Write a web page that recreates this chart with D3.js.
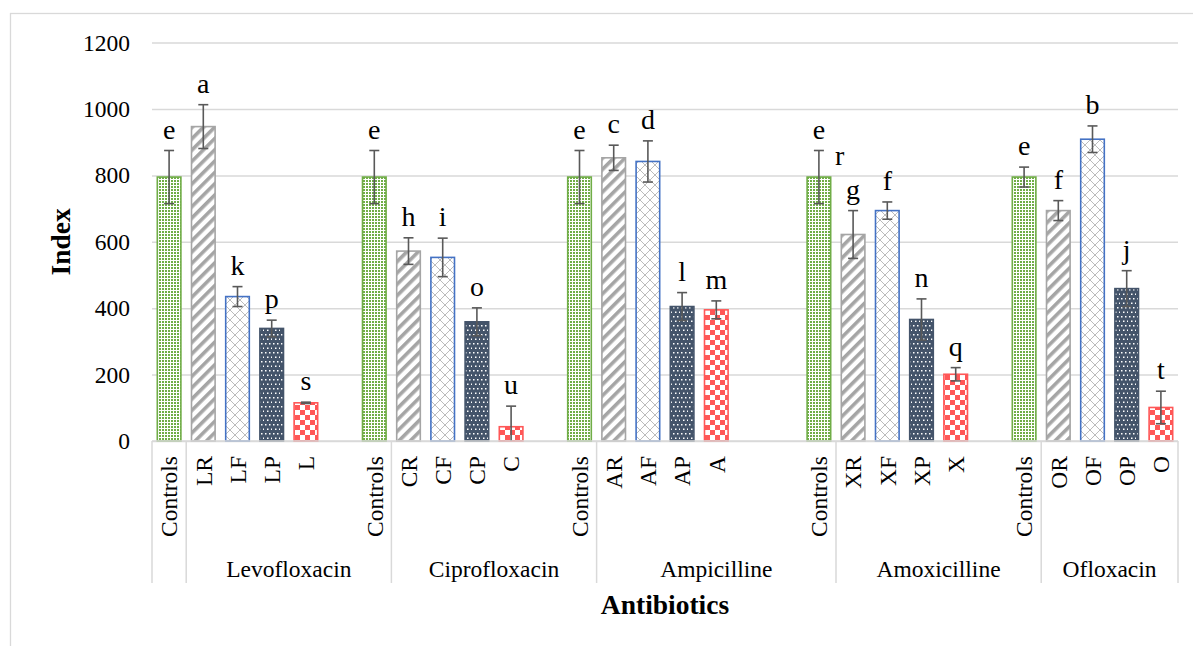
<!DOCTYPE html>
<html>
<head>
<meta charset="utf-8">
<script src="https://cdn.jsdelivr.net/npm/d3@7"></script>
<style>
  html, body { margin: 0; padding: 0; background: #ffffff; }
  svg { display: block; }
  svg text { font-family: "Liberation Serif", "Times New Roman", serif !important; fill: #000; }
</style>
</head>
<body>
<svg id="chart" width="1193" height="646"></svg>
<script>
// Antibiotic groups and the treatments shown in each ("" = empty slot)
const groupNames = ["", "Levofloxacin", "Ciprofloxacin", "Ampicilline", "Amoxicilline", "Ofloxacin"];
const groupMembers = [
  ["Controls"],
  ["LR", "LF", "LP", "L", "", "Controls"],
  ["CR", "CF", "CP", "C", "", "Controls"],
  ["AR", "AF", "AP", "A", "", "", "Controls"],
  ["XR", "XF", "XP", "X", "", "Controls"],
  ["OR", "OF", "OP", "O"]
];

// Series each slot belongs to (drives its fill pattern)
const seriesOf = [
  "ctrl",
  "R", "F", "P", "N", null, "ctrl",
  "R", "F", "P", "N", null, "ctrl",
  "R", "F", "P", "N", null, null, "ctrl",
  "R", "F", "P", "N", null, "ctrl",
  "R", "F", "P", "N"
];

// Mean index per slot
const values = [
  795,
  947, 435, 339, 115, null, 795,
  572, 553, 359, 43, null, 795,
  853, 842, 405, 395, null, null, 795,
  622, 694, 366, 201, null, 795,
  694, 909, 459, 101
];

// Standard deviation per slot
const errors = [
  80,
  66, 30, 25, 2, null, 80,
  40, 58, 42, 62, null, 80,
  38, 62, 42, 27, null, null, 80,
  72, 26, 62, 20, null, 30,
  30, 40, 54, 49
];

// Significance letters per slot
const letters = [
  "e",
  "a", "k", "p", "s", "", "e",
  "h", "i", "o", "u", "", "e",
  "c", "d", "l", "m", "", "", "e",
  "g", "f", "n", "q", "", "e",
  "f", "b", "j", "t"
];

// Extra letter written beside the Amoxicilline control bar
const sideNotes = [{ slot: 19, text: "r" }];

const yTicks = [0, 200, 400, 600, 800, 1000, 1200];

// ---------------------------------------------------------------
const svg = d3.select("#chart");
const W = 1193, H = 646;
const plot = { left: 152, right: 1178, top: 42.6, bottom: 441 };
const gridColor = "#d9d9d9";
const errColor = "#595959";
const serif = "Liberation Serif";

const categories = groupMembers.flat();
const slots = d3.range(categories.length);

const x = d3.scaleBand()
  .domain(slots)
  .range([plot.left, plot.right])
  .paddingInner(0.31)
  .paddingOuter(0.155);

const y = d3.scaleLinear().domain([0, 1200]).range([plot.bottom, plot.top]);

// chart area frame
svg.append("rect")
  .attr("x", 10.5).attr("y", 13.5)
  .attr("width", W + 20).attr("height", H + 20)
  .attr("fill", "#fff").attr("stroke", gridColor).attr("stroke-width", 1.3);

// ---- fill patterns -------------------------------------------
const defs = svg.append("defs");

// controls: fine green dot grid
const pCtrl = defs.append("pattern").attr("id", "pat-ctrl")
  .attr("patternUnits", "userSpaceOnUse").attr("width", 3).attr("height", 3);
pCtrl.append("rect").attr("width", 3).attr("height", 3).attr("fill", "#ffffff");
pCtrl.append("rect").attr("width", 2).attr("height", 2).attr("fill", "#70ad47");

// R: wide upward diagonal grey stripes
const pR = defs.append("pattern").attr("id", "pat-R")
  .attr("patternUnits", "userSpaceOnUse").attr("width", 8).attr("height", 8)
  .attr("patternTransform", "rotate(45)");
pR.append("rect").attr("width", 8).attr("height", 8).attr("fill", "#ffffff");
pR.append("rect").attr("width", 3.6).attr("height", 8).attr("fill", "#a5a5a5");

// F: thin grey zig-zag lattice
const pF = defs.append("pattern").attr("id", "pat-F")
  .attr("patternUnits", "userSpaceOnUse").attr("width", 10).attr("height", 10);
pF.append("rect").attr("width", 10).attr("height", 10).attr("fill", "#ffffff");
pF.append("path").attr("d", "M0,0 L5,5 L0,10 M10,0 L5,5 L10,10")
  .attr("stroke", "#b4b4b4").attr("stroke-width", 0.9).attr("fill", "none");

// P: navy with staggered white dots
const pP = defs.append("pattern").attr("id", "pat-P")
  .attr("patternUnits", "userSpaceOnUse").attr("width", 8).attr("height", 9);
pP.append("rect").attr("width", 8).attr("height", 9).attr("fill", "#44546a");
[[1, 1], [5, 1], [3, 5.5], [7, 5.5]].forEach(([cx, cy]) =>
  pP.append("rect").attr("x", cx).attr("y", cy).attr("width", 1.5).attr("height", 1.5).attr("fill", "#ffffff"));

// N: red checkerboard
const pN = defs.append("pattern").attr("id", "pat-N")
  .attr("patternUnits", "userSpaceOnUse").attr("width", 10).attr("height", 10);
pN.append("rect").attr("width", 10).attr("height", 10).attr("fill", "#ffffff");
pN.append("rect").attr("width", 5).attr("height", 5).attr("fill", "#ff5757");
pN.append("rect").attr("x", 5).attr("y", 5).attr("width", 5).attr("height", 5).attr("fill", "#ff5757");

const outline = { ctrl: "#70ad47", R: "#a5a5a5", F: "#4472c4", P: "#44546a", N: "#ff5757" };

// ---- y axis with gridlines -----------------------------------
const yAxis = d3.axisLeft(y)
  .tickValues(yTicks)
  .tickFormat(d3.format("d"))
  .tickSize(-(plot.right - plot.left))
  .tickPadding(22);

const gy = svg.append("g")
  .attr("transform", `translate(${plot.left},0)`)
  .call(yAxis)
  .attr("font-family", serif)
  .attr("font-size", 23.5);
gy.select(".domain").remove();
gy.selectAll(".tick line").attr("stroke", gridColor).attr("stroke-width", 1.5);
gy.selectAll(".tick text").attr("fill", "#000");

// ---- bars -----------------------------------------------------
const barData = slots.filter(i => values[i] != null);

svg.append("g").selectAll("rect")
  .data(barData)
  .join("rect")
  .attr("x", i => x(i))
  .attr("y", i => y(values[i]))
  .attr("width", x.bandwidth())
  .attr("height", i => y(0) - y(values[i]))
  .attr("fill", i => `url(#pat-${seriesOf[i]})`)
  .attr("stroke", i => outline[seriesOf[i]])
  .attr("stroke-width", 1.6);

// ---- error bars -----------------------------------------------
const cap = 5;
const errG = svg.append("g")
  .attr("stroke", errColor).attr("stroke-width", 1.6).attr("fill", "none");
barData.forEach(i => {
  const cx = x(i) + x.bandwidth() / 2;
  const hi = y(values[i] + errors[i]);
  const lo = y(Math.max(0, values[i] - errors[i]));
  errG.append("line").attr("x1", cx).attr("x2", cx).attr("y1", hi).attr("y2", lo);
  errG.append("line").attr("x1", cx - cap).attr("x2", cx + cap).attr("y1", hi).attr("y2", hi);
  if (values[i] - errors[i] > 0) {
    errG.append("line").attr("x1", cx - cap).attr("x2", cx + cap).attr("y1", lo).attr("y2", lo);
  }
});

// ---- significance letters ------------------------------------
const letterSize = 28;
svg.append("g").attr("font-family", serif).selectAll("text")
  .data(barData.filter(i => letters[i]))
  .join("text")
  .attr("x", i => x(i) + x.bandwidth() / 2)
  .attr("y", i => y(values[i] + errors[i]) - 12)
  .attr("text-anchor", "middle")
  .attr("font-size", letterSize)
  .text(i => letters[i]);

svg.append("g").attr("font-family", serif).selectAll("text")
  .data(sideNotes)
  .join("text")
  .attr("x", d => x(d.slot) + x.bandwidth() + 9)
  .attr("y", d => y(values[d.slot]) - 12)
  .attr("text-anchor", "middle")
  .attr("font-size", letterSize)
  .text(d => d.text);

// ---- category axis (two levels) ------------------------------
const xAxis = d3.axisBottom(x).tickSize(0).tickFormat(i => categories[i]);
const gx = svg.append("g")
  .attr("transform", `translate(0,${plot.bottom})`)
  .call(xAxis)
  .attr("font-family", serif)
  .attr("font-size", 23.5);
gx.select(".domain").remove();
gx.selectAll(".tick text")
  .attr("fill", "#000")
  .attr("transform", "rotate(-90)")
  .attr("text-anchor", "end")
  .attr("x", -15)
  .attr("y", 0)
  .attr("dy", "0.35em");

// baseline of the category axis
svg.append("line")
  .attr("x1", plot.left).attr("x2", plot.right)
  .attr("y1", plot.bottom).attr("y2", plot.bottom)
  .attr("stroke", gridColor).attr("stroke-width", 1.5);

// group dividers and names
const step = x.step();
const slotEdge = i => plot.left + i * step;
let start = 0;
const bounds = [0];
groupMembers.forEach(m => { start += m.length; bounds.push(start); });

svg.append("g").selectAll("line")
  .data(bounds)
  .join("line")
  .attr("x1", b => slotEdge(b)).attr("x2", b => slotEdge(b))
  .attr("y1", plot.bottom).attr("y2", 583)
  .attr("stroke", gridColor).attr("stroke-width", 1.5);

svg.append("g").attr("font-family", serif).selectAll("text")
  .data(groupNames.map((name, k) => ({ name, a: bounds[k], b: bounds[k + 1] })).filter(d => d.name))
  .join("text")
  .attr("x", d => (slotEdge(d.a) + slotEdge(d.b)) / 2)
  .attr("y", 577)
  .attr("text-anchor", "middle")
  .attr("font-size", 23.5)
  .text(d => d.name);

// ---- axis titles ----------------------------------------------
svg.append("text")
  .attr("x", (plot.left + plot.right) / 2)
  .attr("y", 614)
  .attr("text-anchor", "middle")
  .attr("font-family", serif)
  .attr("font-size", 27.5)
  .attr("font-weight", "bold")
  .text("Antibiotics");

svg.append("text")
  .attr("transform", `translate(70,${(plot.top + plot.bottom) / 2}) rotate(-90)`)
  .attr("text-anchor", "middle")
  .attr("font-family", serif)
  .attr("font-size", 27.5)
  .attr("font-weight", "bold")
  .text("Index");
</script>
</body>
</html>
